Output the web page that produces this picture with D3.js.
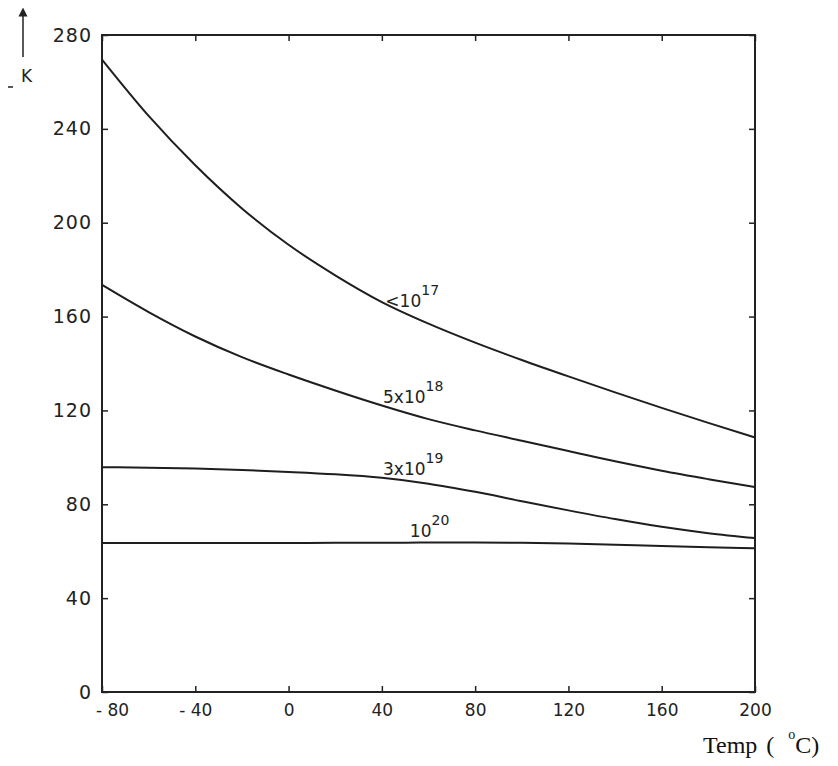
<!DOCTYPE html>
<html>
<head>
<meta charset="utf-8">
<script src="https://cdn.jsdelivr.net/npm/d3@7"></script>
<style>
  body { margin: 0; background: #fff; }
  svg { display: block; }
  .tick text { font-family: "DejaVu Sans", sans-serif; fill: #222; }
  .tick line { stroke: #222; stroke-width: 1.5; }
  .lbl { font-family: "DejaVu Sans", sans-serif; font-size: 17px; fill: #222; }
</style>
</head>
<body>
<svg width="838" height="766"></svg>
<script>
// temperature (deg C) at which each curve was read
var temps = [-80, -60, -40, -20, 0, 20, 40, 60, 80, 100, 120, 140, 160, 180, 200];

// K for each doping level
var kLt1e17 = [269.5, 245.5, 224.5, 206.1, 190.6, 177.6, 166.2, 157, 148.9, 141.5, 134.5, 127.7, 121.1, 114.7, 108.5];
var k5e18   = [173.5, 161.9, 151.5, 142.7, 135.3, 128.5, 122.1, 116.3, 111.5, 107.1, 102.7, 98.3, 94.3, 90.7, 87.3];
var k3e19   = [95.8, 95.6, 95.2, 94.6, 93.8, 92.8, 91.3, 88.8, 85.3, 81.3, 77.4, 73.7, 70.4, 67.7, 65.6];
var k1e20   = [63.5, 63.5, 63.5, 63.5, 63.5, 63.6, 63.6, 63.7, 63.7, 63.6, 63.3, 62.8, 62.2, 61.7, 61.3];

var xTicks = [-80, -40, 0, 40, 80, 120, 160, 200];
var yTicks = [0, 40, 80, 120, 160, 200, 240, 280];

// curve labels: base text, exponent, and where they sit (temp, K)
var labelBase = ["<10", "5x10", "3x10", "10"];
var labelExp  = ["17", "18", "19", "20"];
var labelAt   = [[41.5, 164], [40.5, 123.2], [40.5, 92.3], [52, 66]];

var svg = d3.select("svg");

var x = d3.scaleLinear().domain([-80, 200]).range([102, 755]),
    y = d3.scaleLinear().domain([0, 280]).range([692, 35]);

// axes, ticks pointing inward
svg.append("g").attr("transform", "translate(0,692)")
    .call(d3.axisBottom(x).tickValues(xTicks).tickSizeInner(-6).tickSizeOuter(0).tickPadding(12))
    .call(function(g) {
      g.select(".domain").remove();
      g.selectAll(".tick text").attr("font-size", 17)
        .text(function(d) { return d < 0 ? "- " + (-d) : d; })
        .attr("dx", function(d) { return d == -80 ? 10 : 0; });
    });

svg.append("g").attr("transform", "translate(102,0)")
    .call(d3.axisLeft(y).tickValues(yTicks).tickSizeInner(-6).tickSizeOuter(0).tickPadding(10))
    .call(function(g) {
      g.select(".domain").remove();
      g.selectAll(".tick text").attr("font-size", 19).attr("letter-spacing", 1);
    });

svg.append("g").attr("transform", "translate(0,35)")
    .call(d3.axisTop(x).tickValues(xTicks).tickSizeInner(-6).tickSizeOuter(0).tickFormat(""))
    .call(function(g) { g.select(".domain").remove(); });

svg.append("g").attr("transform", "translate(755,0)")
    .call(d3.axisRight(y).tickValues(yTicks).tickSizeInner(-6).tickSizeOuter(0).tickFormat(""))
    .call(function(g) { g.select(".domain").remove(); });

// frame
svg.append("rect")
    .attr("x", x(-80)).attr("y", y(280))
    .attr("width", x(200) - x(-80)).attr("height", y(0) - y(280))
    .attr("fill", "none").attr("stroke", "#222").attr("stroke-width", 2);

// curves
var line = d3.line()
    .x(function(d, i) { return x(temps[i]); })
    .y(function(d) { return y(d); })
    .curve(d3.curveMonotoneX);

svg.append("g").selectAll("path")
    .data([kLt1e17, k5e18, k3e19, k1e20])
    .enter().append("path")
    .attr("d", line)
    .attr("fill", "none")
    .attr("stroke", "#1e1e1e")
    .attr("stroke-width", 2);

// curve labels
labelBase.forEach(function(b, i) {
  var t = svg.append("text").attr("class", "lbl")
      .attr("x", x(labelAt[i][0])).attr("y", y(labelAt[i][1]));
  t.append("tspan").text(b);
  t.append("tspan").attr("dy", -12).attr("font-size", 14).text(labelExp[i]);
});

// y axis label: arrow and K
svg.append("defs").append("marker")
    .attr("id", "arrow").attr("viewBox", "0 0 10 10")
    .attr("refX", 5).attr("refY", 5)
    .attr("markerWidth", 6).attr("markerHeight", 10)
    .attr("orient", "auto-start-reverse")
    .append("path").attr("d", "M0,0L10,5L0,10z").attr("fill", "#222");

svg.append("line")
    .attr("x1", 23).attr("y1", 57).attr("x2", 23).attr("y2", 12)
    .attr("stroke", "#222").attr("stroke-width", 1.5)
    .attr("marker-end", "url(#arrow)");

svg.append("text").attr("class", "lbl")
    .attr("x", 21).attr("y", 82).text("K");
svg.append("line")
    .attr("x1", 8).attr("y1", 87).attr("x2", 13).attr("y2", 87)
    .attr("stroke", "#222").attr("stroke-width", 1.5);

// x axis label
var xl = svg.append("text")
    .attr("x", 703).attr("y", 753)
    .attr("font-family", "'Liberation Serif', 'Times New Roman', serif")
    .attr("font-size", 24).attr("fill", "#111");
xl.append("tspan").text("Temp");
xl.append("tspan").attr("dx", 9).text("(");
xl.append("tspan").attr("dx", 14).attr("dy", -14).attr("font-size", 14).text("o");
xl.append("tspan").attr("dy", 14).text("C)");
</script>
</body>
</html>
